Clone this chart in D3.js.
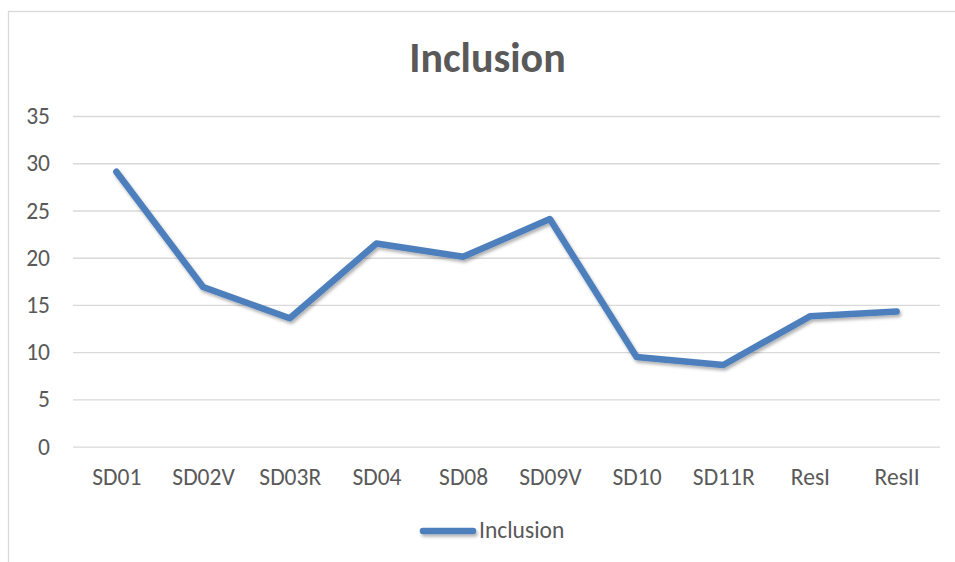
<!DOCTYPE html>
<html>
<head>
<meta charset="utf-8">
<script src="https://cdn.jsdelivr.net/npm/d3@7"></script>
<style>
  html, body { margin: 0; padding: 0; background: #fff; }
  svg { display: block; }
  text { font-family: Carlito, Calibri, Lato, "Open Sans", sans-serif; fill: #595959; }
</style>
</head>
<body>
<svg id="chart" width="955" height="562"></svg>
<script>
// Series data
const categories = ["SD01", "SD02V", "SD03R", "SD04", "SD08", "SD09V", "SD10", "SD11R", "ResI", "ResII"];
const inclusion = [29.1, 16.9, 13.6, 21.5, 20.1, 24.1, 9.5, 8.65, 13.8, 14.3];
const yTicks = [0, 5, 10, 15, 20, 25, 30, 35];
const seriesName = "Inclusion";
const chartTitle = "Inclusion";

const W = 955, H = 562;
const plot = { left: 73, right: 940, top: 116, bottom: 446.7 };
const lineColor = "#4e7fbd";
const fontStack = "Carlito, Calibri, Lato, sans-serif";

const svg = d3.select("#chart");

// drop shadow for the series line (user-space region so flat lines keep it)
const defs = svg.append("defs");
defs.append("filter").attr("id", "shadow")
  .attr("filterUnits", "userSpaceOnUse")
  .attr("x", 0).attr("y", 0).attr("width", W).attr("height", H)
  .append("feDropShadow").attr("dx", 1.5).attr("dy", 2.5).attr("stdDeviation", 1.6)
  .attr("flood-color", "#000").attr("flood-opacity", 0.3);

// chart frame
svg.append("rect")
  .attr("x", 8.5).attr("y", 11.5).attr("width", W + 20).attr("height", H + 20)
  .attr("fill", "#fff").attr("stroke", "#d9d9d9").attr("stroke-width", 1.3);

const x = d3.scalePoint().domain(categories).range([plot.left, plot.right]).padding(0.5);
const y = d3.scaleLinear().domain([0, 35]).range([plot.bottom, plot.top]);

// horizontal gridlines + y labels
const yAxis = d3.axisLeft(y).tickValues(yTicks).tickSize(-(plot.right - plot.left)).tickPadding(23);
const gy = svg.append("g").attr("transform", `translate(${plot.left},0)`).call(yAxis);
gy.select(".domain").remove();
gy.selectAll(".tick line").attr("stroke", "#d9d9d9").attr("stroke-width", 1.3);
gy.selectAll(".tick text").attr("font-size", 23.5).attr("fill", "#595959")
  .style("font-family", fontStack);

// category labels
const xAxis = d3.axisBottom(x).tickSize(0).tickPadding(21.6);
const gx = svg.append("g").attr("transform", `translate(0,${plot.bottom})`).call(xAxis);
gx.select(".domain").remove();
gx.selectAll(".tick text").attr("font-size", 23.5).attr("fill", "#595959")
  .style("font-family", fontStack);

// series line
const line = d3.line().x((d, i) => x(categories[i])).y(d => y(d));
svg.append("path")
  .datum(inclusion)
  .attr("d", line)
  .attr("fill", "none")
  .attr("stroke", lineColor)
  .attr("stroke-width", 6.5)
  .attr("stroke-linejoin", "round")
  .attr("stroke-linecap", "round")
  .attr("filter", "url(#shadow)");

// title
svg.append("text")
  .attr("x", 487.5).attr("y", 72)
  .attr("text-anchor", "middle")
  .attr("font-size", 42).attr("font-weight", "bold")
  .text(chartTitle);

// legend
const lg = svg.append("g");
lg.append("line")
  .attr("x1", 423).attr("x2", 473).attr("y1", 531).attr("y2", 531)
  .attr("stroke", lineColor).attr("stroke-width", 6.5).attr("stroke-linecap", "round")
  .attr("filter", "url(#shadow)");
lg.append("text")
  .attr("x", 479).attr("y", 538)
  .attr("font-size", 23.5)
  .text(seriesName);
</script>
</body>
</html>
